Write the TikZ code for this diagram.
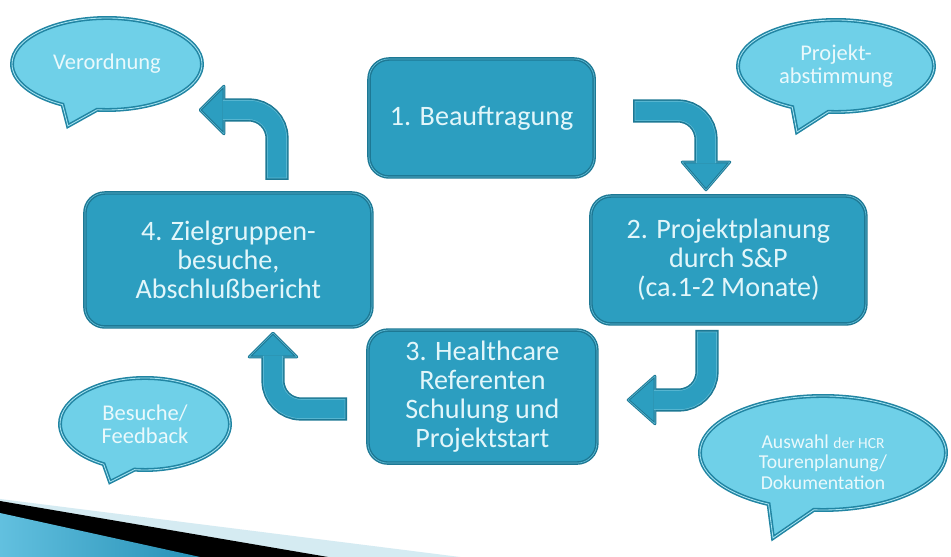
\documentclass[tikz,border=0pt]{standalone}
\usepackage{fontspec}
\setmainfont{Carlito}
\usetikzlibrary{positioning,calc,shapes.callouts}
\definecolor{StepFill}{HTML}{2C9EC0}
\definecolor{StepEdge}{HTML}{1D7894}
\definecolor{StepLine}{HTML}{5DB9D3}
\definecolor{StepText}{HTML}{E2F6FA}
\definecolor{BubbleFill}{HTML}{6FD0E8}
\definecolor{BubbleEdge}{HTML}{2185A3}
\definecolor{BubbleLine}{HTML}{A8E4F2}
\definecolor{BubbleText}{HTML}{EAF9FC}
\definecolor{SwooshPale}{HTML}{D5EBF2}
\definecolor{SwooshLight}{HTML}{62C0DF}
\definecolor{SwooshDark}{HTML}{2690B6}
\tikzset{
  stepbox/.style={rectangle,rounded corners=0.5cm,fill=StepFill,draw=StepEdge,double=StepLine,double distance=0.5pt,line width=1pt,text=StepText,align=center,inner sep=2pt,font=\fontsize{20}{20.5}\selectfont},
  bubble/.style={ellipse callout,callout pointer arc=22,fill=BubbleFill,draw=BubbleEdge,double=BubbleLine,double distance=0.6pt,line width=1.1pt,text=BubbleText,align=center,inner sep=0pt,font=\fontsize{16}{16.5}\selectfont}
}
\newcommand{\bentarrow}[4]{%
  \draw[StepEdge,line width=0.58cm,rounded corners=0.7cm] (#1) -- (#2) -- (#3);
  \filldraw[fill=StepFill,draw=StepEdge,double=StepLine,double distance=0.4pt,line width=0.7pt,line join=round] ($(#3)!0.6cm!90:(#4)$) -- (#4) -- ($(#3)!0.6cm!-90:(#4)$) -- cycle;
  \draw[StepLine,line width=0.5cm,rounded corners=0.7cm,shorten <=0.04cm] (#1) -- (#2) -- ($(#3)!0.03cm!(#4)$);
  \draw[StepFill,line width=0.46cm,rounded corners=0.7cm,shorten <=0.06cm] (#1) -- (#2) -- ($(#3)!0.03cm!(#4)$);}

\begin{document}
\begin{tikzpicture}[x=1cm,y=1cm]
  \fill[white] (0,0) rectangle (23.775,13.925);
  \useasboundingbox (0,0) rectangle (23.775,13.925);
  \fill[SwooshPale] (0,1.45) -- (11.5,0) -- (0,0) -- cycle;
  \fill[black] (0,1.4) -- (8.2,0) -- (0,0) -- cycle;
  \shade[left color=SwooshLight,right color=SwooshDark] (0,1.1) -- (5,0) -- (0,0) -- cycle;

  \node[stepbox,minimum width=5.63cm,minimum height=2.95cm] (beauftragung) at (12.04,10.975) {1. Beauftragung};
  \node[stepbox,minimum width=6.875cm,minimum height=3.2cm] (planung) at (18.21,7.425) {2. Projektplanung\\durch S\&P\\(ca.1-2 Monate)};
  \node[stepbox,minimum width=5.725cm,minimum height=3.325cm] (schulung) at (12.06,4.01) {3. Healthcare\\Referenten\\Schulung und\\Projektstart};
  \node[stepbox,minimum width=7.175cm,minimum height=3.35cm] (zielgruppen) at (5.71,7.425) {4. Zielgruppen-\\besuche,\\Abschlußbericht};

  \node[bubble,minimum width=4.75cm,minimum height=2.3cm,callout absolute pointer={(1.7,10.775)}] (verordnung) at (2.675,12.325) {Verordnung};
  \node[bubble,minimum width=4.9cm,minimum height=2.3cm,callout absolute pointer={(19.925,10.625)}] (abstimmung) at (20.9,12.275) {Projekt-\\abstimmung};
  \node[bubble,minimum width=4.25cm,minimum height=2.3cm,callout absolute pointer={(2.75,1.875)}] (feedback) at (3.625,3.325) {Besuche/\\Feedback};
  \node[bubble,minimum width=6.15cm,minimum height=2.85cm,callout absolute pointer={(19.325,0.475)},font=\fontsize{14}{14.3}\selectfont] (auswahl) at (20.575,2.6) {\rule{0pt}{0.8cm}Auswahl {\fontsize{11}{14.3}\selectfont der HCR}\\Tourenplanung/\\Dokumentation};

  \coordinate (t12s) at (15.825,11.15);
  \coordinate (t12c) at (17.65,11.15);
  \coordinate (t12h) at (17.65,9.875);
  \coordinate (t12t) at (17.65,9.175);
  \coordinate (t23s) at (17.675,5.675);
  \coordinate (t23c) at (17.675,3.925);
  \coordinate (t23h) at (16.375,3.925);
  \coordinate (t23t) at (15.7,3.925);
  \coordinate (t34s) at (8.675,3.7);
  \coordinate (t34c) at (6.825,3.7);
  \coordinate (t34h) at (6.825,5.0);
  \coordinate (t34t) at (6.825,5.6);
  \coordinate (t41s) at (6.925,9.425);
  \coordinate (t41c) at (6.925,11.175);
  \coordinate (t41h) at (5.6,11.175);
  \coordinate (t41t) at (5.0,11.175);
  \bentarrow{t12s}{t12c}{t12h}{t12t}
  \bentarrow{t23s}{t23c}{t23h}{t23t}
  \bentarrow{t34s}{t34c}{t34h}{t34t}
  \bentarrow{t41s}{t41c}{t41h}{t41t}
\end{tikzpicture}
\end{document}
